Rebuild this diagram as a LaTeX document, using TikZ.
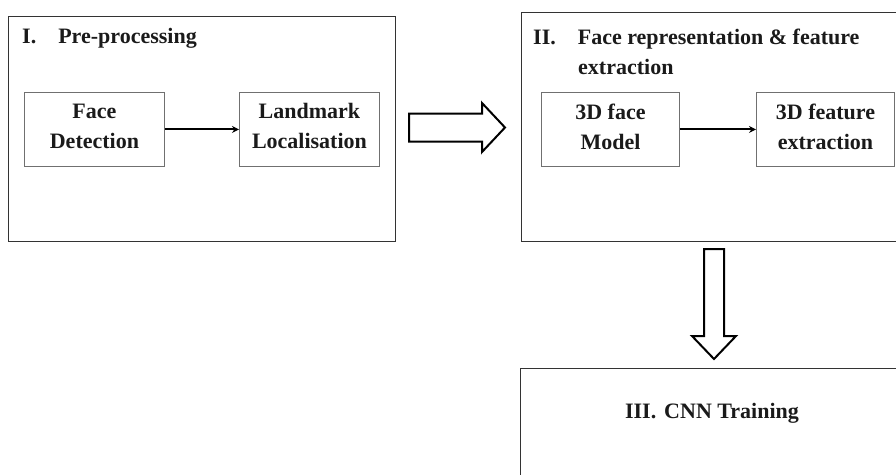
\documentclass[tikz,border=0pt]{standalone}
\usepackage{fontspec}
\setmainfont{Liberation Serif}
\usetikzlibrary{arrows.meta}
\definecolor{ink}{HTML}{1A1A1A}
\definecolor{frame}{HTML}{333333}
\definecolor{inner}{HTML}{707070}
\tikzset{
  stage/.style={draw=frame, line width=1.4pt, anchor=north west, inner sep=0pt},
  stepbox/.style={draw=inner, line width=0.9pt, anchor=north west, inner sep=0pt,
    minimum width=140pt, minimum height=74pt},
  steptext/.style={align=center, text=ink, inner sep=0pt, yshift=3pt,
    font=\bfseries\fontsize{22}{30}\selectfont},
  title/.style={anchor=west, text=ink, inner sep=0pt, align=left,
    font=\bfseries\fontsize{22}{30}\selectfont},
  link/.style={draw=black, line width=2pt, -{Stealth[length=7pt,width=7pt]}},
  bigarrow/.style={draw=black, line width=2pt, fill=white, line join=miter}
}
\begin{document}
\begin{tikzpicture}[x=1pt,y=-1pt]
\useasboundingbox (0,0) rectangle (896,474);
\begin{scope}
\clip (0,0) rectangle (896,474);
% stage boxes
\node[stage, minimum width=387pt, minimum height=225pt] (s1) at (8,16) {};
\node[stage, minimum width=390pt, minimum height=229pt] (s2) at (521,12) {};
\node[stage, minimum width=390pt, minimum height=120pt] (s3) at (520,368) {};
\end{scope}
% titles
\node[title] (t1) at (22,38) {I.\hspace{22pt}Pre-processing};
\node[title, anchor=north west] (t2) at (533,29) {II.\hspace{22pt}Face\ representation \& feature\\\hspace{45pt}extraction};
\node[title, anchor=center] (t3) at (712,413) {III.\hspace{8pt}CNN Training};
% inner steps
\node[stepbox, label={[steptext]center:Face\\Detection}] (fd) at (24,92) {};
\node[stepbox, label={[steptext]center:Landmark\\Localisation}] (lm) at (239,92) {};
\node[stepbox, minimum width=138pt, label={[steptext]center:3D face\\Model}] (fm) at (541,92) {};
\node[stepbox, minimum width=138pt, label={[steptext]center:3D feature\\extraction}] (fe) at (756,92) {};
\draw[link] (fd.east) -- (lm.west);
\draw[link] (fm.east) -- (fe.west);
% big hollow arrows
\draw[bigarrow] (409,113.5) -- (482,113.5) -- (482,103) -- (505,127.5) -- (482,152) -- (482,141.5) -- (409,141.5) -- cycle;
\draw[bigarrow] (704,249) -- (724,249) -- (724,336) -- (736,336) -- (714,359) -- (692,336) -- (704,336) -- cycle;
\end{tikzpicture}
\end{document}
